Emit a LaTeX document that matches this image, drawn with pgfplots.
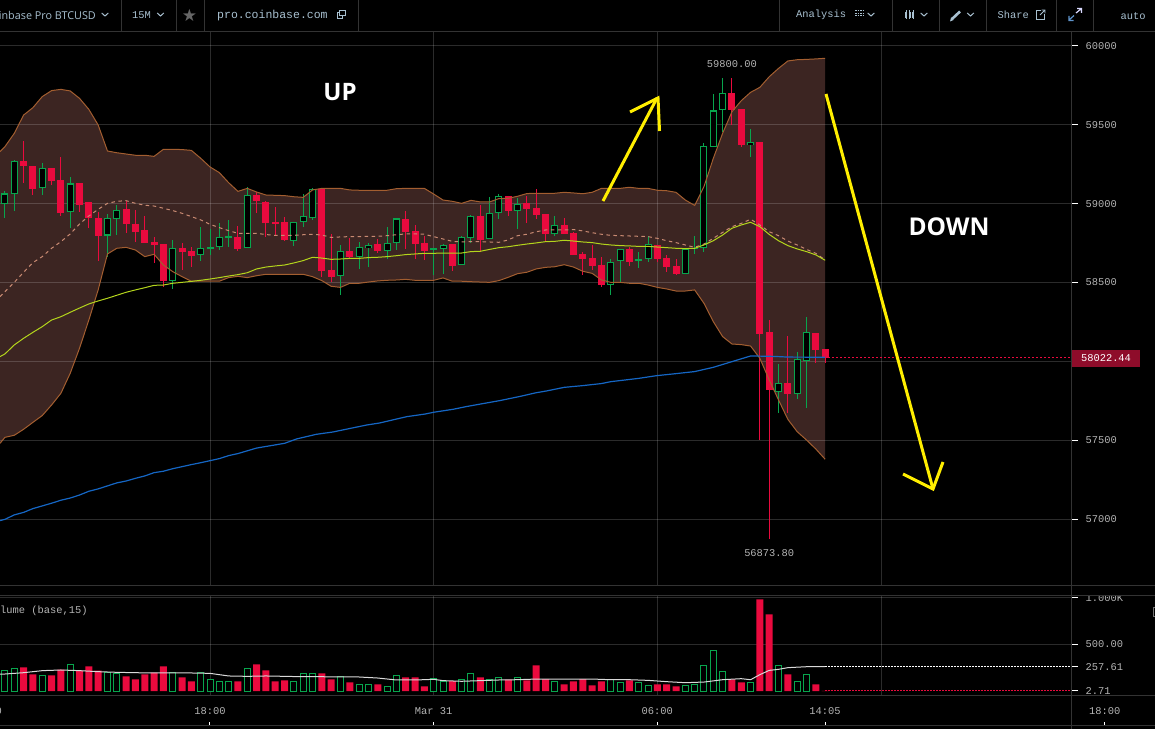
\documentclass[border=0pt]{standalone}
\usepackage{fontspec}
\usepackage{pgfplots}
\usepackage{pgfplotstable}
\pgfplotsset{compat=1.18}
\newfontfamily\mono{Liberation Mono}
\newfontfamily\ui{Open Sans}
\newfontfamily\sym{DejaVu Sans}
\setmainfont{Liberation Mono}
\newcommand{\tk}{\mono\fontsize{10.4}{12}\selectfont}
\definecolor{cred}{HTML}{EA0A3E}
\definecolor{cgreen}{HTML}{08A54D}
\definecolor{bandf}{HTML}{3C2522}
\definecolor{bandl}{HTML}{A35E30}
\definecolor{dash}{HTML}{C98A72}
\definecolor{ylw}{HTML}{B4D51C}
\definecolor{blu}{HTML}{1566C4}
\definecolor{lbl}{HTML}{B4B4B4}
\definecolor{uit}{HTML}{A8C0D0}
\definecolor{sep}{HTML}{333333}
\definecolor{tag}{HTML}{8E0C2A}
\definecolor{arrowy}{HTML}{FFEE00}

% i top bot hi lo
\pgfplotstableread{
i top bot hi lo
-20 59271 59241 59395 59129
-19 59239 59093 59239 59053
-17 59226 59144 59226 59121
-16 59150 58941 59298 58924
-14 59131 58992 59131 58949
-13 59011 58911 59011 58848
-12 58909 58797 58949 58634
-9 58966 58873 59019 58816
-8 58875 58822 58958 58759
-7 58833 58751 58922 58751
-6 58755 58738 58787 58626
-5 58744 58510 58744 58469
-3 58719 58696 58753 58577
-2 58698 58670 58727 58596
3 58787 58713 58856 58698
5 59053 59019 59076 58939
6 59015 58880 59015 58787
7 58882 58877 58977 58795
8 58882 58772 58913 58763
12 59097 58575 59097 58533
13 58579 58535 58806 58505
15 58700 58662 58784 58647
18 58744 58698 58774 58685
21 58903 58822 58951 58715
22 58827 58746 58863 58647
23 58749 58700 58795 58641
26 58744 58605 58744 58575
29 58922 58772 58994 58696
32 59049 58954 59049 58920
34 59004 58966 59047 58875
35 58973 58928 59091 58901
36 58935 58810 58935 58757
38 58865 58810 58907 58810
39 58814 58675 58822 58675
40 58681 58649 58691 58550
41 58655 58605 58740 58581
42 58611 58484 58664 58469
45 58713 58632 58727 58607
48 58736 58651 58736 58632
49 58655 58600 58672 58565
50 58605 58556 58647 58546
56 59702 59594 59800 59497
57 59600 59372 59600 59362
59 59391 58176 59391 57499
60 58186 57818 58260 56873.8
62 57861 57795 58159 57670
65 58178 58074 58178 57987
66 58076 58022.44 58076 57987
}\redtab
\pgfplotstableread{
i top bot hi lo
-22 59065 58996 59078 58907
-21 59269 59065 59277 58956
-18 59224 59097 59256 59057
-15 59129 58945 59171 58848
-11 58913 58799 58932 58664
-10 58964 58907 58989 58803
-4 58717 58512 58768 58457
-1 58717 58672 58850 58634
0 58723 58715 58837 58677
1 58787 58723 58875 58708
2 58793 58787 58894 58727
4 59053 58717 59108 58717
9 58886 58761 58886 58734
10 58920 58886 59059 58854
11 59097 58911 59097 58894
14 58698 58539 58736 58419
16 58723 58664 58755 58584
17 58736 58721 58748 58601
19 58755 58704 58850 58647
20 58907 58753 58907 58704
24 58717 58704 58717 58550
25 58742 58717 58742 58556
27 58786 58609 58795 58609
28 58920 58784 58928 58748
30 58939 58774 59044 58774
31 59047 58939 59059 58901
33 59002 58956 59034 58837
37 58869 58806 58920 58797
43 58634 58488 58649 58423
44 58710 58634 58710 58501
46 58647 58634 58691 58590
47 58742 58647 58797 58632
51 58717 58558 58717 58558
52 58721 58715 58797 58679
53 59364 58717 59387 58696
54 59592 59362 59693 59362
55 59700 59592 59795 59457
58 59389 59374 59471 59298
61 57861 57808 57981 57675
63 58013 57795 58057 57759
64 58184 58000 58279 57702
}\greentab
% i upper lower
\pgfplotstableread{
i u l
-22.53 59330 57480
-22 59362 57518
-21 59446 57531
-20 59562 57569
-19 59609 57613
-18 59679 57656
-17 59717 57723
-16 59725 57797
-15 59715 57924
-14 59668 58083
-13 59598 58262
-12 59499 58453
-11 59334 58681
-10 59323 58717
-9 59315 58723
-8 59307 58706
-7 59307 58664
-6 59300 58679
-5 59345 58611
-4 59345 58569
-3 59343 58537
-2 59338 58508
-1 59288 58508
0 59233 58508
1 59197 58508
2 59133 58531
3 59078 58539
4 59097 58531
5 59074 58543
6 59055 58552
7 59053 58552
8 59051 58552
9 59044 58552
10 59040 58552
11 59087 58537
12 59097 58512
13 59097 58476
14 59097 58469
15 59087 58495
16 59085 58495
17 59085 58503
18 59085 58510
19 59085 58514
20 59095 58516
21 59097 58520
22 59097 58514
23 59097 58514
24 59061 58514
25 59023 58529
26 59015 58508
27 59002 58508
28 59021 58505
29 59011 58503
30 59011 58501
31 59032 58512
32 59034 58533
33 59047 58556
34 59064 58565
35 59066 58586
36 59066 58596
37 59066 58600
38 59072 58613
39 59068 58598
40 59063 58571
41 59072 58558
42 59097 58516
43 59097 58501
44 59097 58501
45 59104 58495
46 59097 58495
47 59097 58484
48 59085 58469
49 59082 58459
50 59072 58446
51 59023 58446
52 58989 58453
53 59108 58368
54 59287 58252
55 59446 58157
56 59583 58110
57 59653 58106
58 59706 58097
59 59738 58019
60 59805 57882
61 59858 57755
62 59905 57632
63 59913 57554
64 59915 57501
65 59918 57444
66 59922 57379
}\bandtab
% i sma20 ma50
\pgfplotstableread{
i d y
-22.53 58410 58030
-22 58442 58047
-21 58501 58104
-20 58565 58146
-19 58626 58184
-18 58664 58220
-17 58717 58262
-16 58759 58283
-15 58808 58311
-14 58871 58338
-13 58922 58364
-12 58964 58383
-11 59002 58400
-10 59015 58419
-9 59019 58438
-8 59002 58453
-7 58990 58467
-6 58985 58482
-5 58971 58484
-4 58956 58495
-3 58939 58501
-2 58918 58507
-1 58897 58514
0 58869 58522
1 58848 58531
2 58829 58541
3 58812 58550
4 58812 58562
5 58812 58586
6 58804 58598
7 58799 58605
8 58799 58611
9 58799 58624
10 58803 58639
11 58806 58660
12 58801 58655
13 58786 58647
14 58789 58649
15 58791 58653
16 58791 58653
17 58793 58658
18 58793 58660
19 58797 58664
20 58803 58670
21 58808 58677
22 58808 58681
23 58806 58685
24 58791 58685
25 58776 58687
26 58761 58687
27 58757 58687
28 58759 58696
29 58759 58698
30 58757 58710
31 58755 58721
32 58770 58727
33 58797 58736
34 58806 58744
35 58822 58751
36 58833 58759
37 58833 58761
38 58833 58768
39 58836 58763
40 58827 58757
41 58816 58753
42 58806 58744
43 58799 58738
44 58797 58734
45 58795 58732
46 58793 58729
47 58791 58729
48 58780 58725
49 58765 58721
50 58753 58717
51 58738 58715
52 58723 58717
53 58744 58738
54 58780 58765
55 58818 58801
56 58854 58844
57 58875 58865
58 58901 58882
59 58865 58854
60 58822 58805
61 58797 58765
62 58763 58734
63 58738 58713
64 58710 58696
65 58685 58675
66 58643 58641
}\matab
\pgfplotstableread{
i b
-22.53 56990
-22 56998
-21 57026
-20 57042
-19 57066
-18 57083
-17 57100
-16 57119
-15 57133
-14 57152
-13 57176
-12 57191
-11 57210
-10 57229
-9 57241
-8 57258
-7 57273
-6 57294
-5 57303
-4 57319
-3 57332
-2 57345
-1 57357
0 57370
1 57383
2 57402
3 57415
5 57450
8 57480
9.3 57508
11.4 57537
13.2 57552
15.4 57579
16.8 57596
18.2 57609
21.1 57649
23.1 57666
24 57677
26.1 57696
27.5 57713
29.1 57730
31.1 57751
33.3 57778
35 57801
36.1 57812
38 57835
40 57846
42 57859
43 57871
46 57892
47.9 57909
50 57922
52 57935
54 57962
56 57998
58 58034
60 58032
61 58030
62 58027
66 58026
}\bluetab
\pgfplotstableread{
i v
-20 253
-19 178
-17 168
-16 228
-14 218
-13 264
-12 218
-9 157
-8 125
-7 178
-6 196
-5 264
-3 146
-2 104
3 104
5 286
6 221
7 104
8 114
12 189
13 125
15 93
18 71
21 146
22 146
23 50
26 107
29 146
32 121
34 114
35 275
36 128
38 71
39 104
40 128
41 61
42 104
45 114
48 71
49 71
50 50
56 125
57 93
59 981
60 821
62 178
65 71
66 2.71
}\volred
\pgfplotstableread{
i v
-22 218
-21 239
-18 164
-15 282
-11 196
-10 186
-4 193
-1 196
0 125
1 100
2 100
4 239
9 100
10 186
11 186
14 150
16 68
17 68
19 46
20 164
24 132
25 100
27 121
28 186
30 121
31 143
33 143
37 100
43 125
44 89
46 89
47 57
51 57
52 68
53 271
54 432
55 207
58 89
61 271
63 100
64 175
}\volgreen
\pgfplotstableread{
i m
-22.53 182
-22 182
-20 196
-18 218
-16 225
-14 218
-12 207
-10 200
-8 196
-6 193
-4 193
-2 193
0 189
2 161
4 157
6 161
8 157
10 153
12 153
14 150
16 150
18 139
20 118
22 118
24 125
25 111
27 104
29 111
31 118
33 121
35 128
39 128
41 128
43 121
45 121
47 114
49 100
51 89
53 96
55 121
57 132
58 121
59 175
60 221
61 232
62 250
64 260
66 260
}\volma

\begin{document}
\begin{tikzpicture}
\fill[black] (0,0) rectangle (1155pt,729pt);

% --- Bollinger band, beneath the grid
\begin{axis}[at={(0pt,144pt)},anchor=south west,scale only axis,width=1071.5pt,height=553pt,
  xmin=-22.532,xmax=92.44,ymin=56581.4,ymax=60088.8,hide axis,stack plots=y]
\addplot[draw=none,forget plot] table[x=i,y=l]{\bandtab};
\addplot[fill=bandf,draw=none,forget plot] table[x=i,y expr=\thisrow{u}-\thisrow{l}]{\bandtab} \closedcycle;
\end{axis}

% --- price panel
\begin{axis}[at={(0pt,144pt)},anchor=south west,scale only axis,width=1071.5pt,height=553pt,
  xmin=-22.532,xmax=92.44,ymin=56581.4,ymax=60088.8,
  axis line style={draw=none},
  xtick={0,24,48,72},xticklabels={},xtick style={draw=none},
  ytick={57000,57500,58000,58500,59000,59500,60000},
  yticklabels={57000,57500,,58500,59000,59500,60000},
  scaled y ticks=false,
  ytick pos=right,yticklabel pos=right,tick align=outside,major tick length=6.5pt,
  ytick style={draw=white,line width=1pt},
  yticklabel style={font=\tk,text=lbl,xshift=4pt},
  grid=major,grid style={white,opacity=0.17,line width=1pt}]
% wicks
\addplot[forget plot,draw=none,mark=none,error bars/.cd,y dir=both,y explicit,error mark=none,
  error bar style={line width=1pt,draw=cred}]
  table[x=i,y=top,y error plus expr=\thisrow{hi}-\thisrow{top},y error minus expr=\thisrow{top}-\thisrow{lo}]{\redtab};
\addplot[forget plot,draw=none,mark=none,error bars/.cd,y dir=both,y explicit,error mark=none,
  error bar style={line width=1pt,draw=cgreen}]
  table[x=i,y=top,y error plus expr=\thisrow{hi}-\thisrow{top},y error minus expr=\thisrow{top}-\thisrow{lo}]{\greentab};
% bodies
\addplot[forget plot,draw=none,mark=none,error bars/.cd,y dir=both,y explicit,error mark=none,
  error bar style={line width=7pt,draw=cred}]
  table[x=i,y expr=(\thisrow{top}+\thisrow{bot})/2,y error expr=(\thisrow{top}-\thisrow{bot})/2]{\redtab};
\addplot[forget plot,draw=none,mark=none,error bars/.cd,y dir=both,y explicit,error mark=none,
  error bar style={line width=7pt,draw=cgreen}]
  table[x=i,y expr=(\thisrow{top}+\thisrow{bot})/2,y error expr=(\thisrow{top}-\thisrow{bot})/2]{\greentab};
\addplot[forget plot,draw=none,mark=none,error bars/.cd,y dir=both,y explicit,error mark=none,
  error bar style={line width=5pt,draw=black}]
  table[x=i,y expr=(\thisrow{top}+\thisrow{bot})/2,y error expr={max(0,(\thisrow{top}-\thisrow{bot})/2-6.5)}]{\greentab};
% band edges and moving averages
\addplot[draw=bandl,line width=1pt] table[x=i,y=u]{\bandtab};
\addplot[draw=bandl,line width=1pt] table[x=i,y=l]{\bandtab};
\addplot[draw=dash,line width=1pt,dash pattern=on 3.5pt off 3.5pt] table[x=i,y=d]{\matab};
\addplot[draw=ylw,line width=1pt] table[x=i,y=y]{\matab};
\addplot[draw=blu,line width=1.2pt] table[x=i,y=b]{\bluetab};
\addplot[draw=cred,line width=1pt,dash pattern=on 2pt off 2pt] coordinates {(66.3,58022.44) (92.44,58022.44)};
\node[font=\tk,text=lbl] at (axis cs:56,59885) {59800.00};
\node[font=\tk,text=lbl] at (axis cs:60,56786) {56873.80};
\end{axis}

% --- volume panel
\begin{axis}[at={(0pt,34pt)},anchor=south west,scale only axis,width=1071.5pt,height=100pt,
  xmin=-22.532,xmax=92.44,ymin=-42.8,ymax=1027.8,
  axis line style={draw=none},
  xtick={0,24,48,72},xticklabels={},xtick style={draw=none},
  ytick={500,1000},yticklabels={500.00,1.000K},
  extra y ticks={2.71,257.61},extra y tick labels={2.71,257.61},
  extra y tick style={grid=none},
  ytick pos=right,yticklabel pos=right,tick align=outside,major tick length=6.5pt,
  ytick style={draw=white,line width=1pt},
  yticklabel style={font=\tk,text=lbl,xshift=4pt},
  grid=major,grid style={white,opacity=0.17,line width=1pt}]
\addplot[ybar,bar shift=0pt,bar width=7pt,fill=cred,draw=none,forget plot] table[x=i,y=v]{\volred};
\addplot[ybar,bar shift=0pt,bar width=6pt,fill=black,draw=cgreen,line width=1pt,forget plot] table[x=i,y=v]{\volgreen};
\addplot[draw=white!85!black,line width=1pt] table[x=i,y=m]{\volma};
\addplot[draw=white,line width=1pt,dash pattern=on 1.5pt off 1.5pt] coordinates {(66,257.61) (92.44,257.61)};
\addplot[draw=cred,line width=1pt,dash pattern=on 1.5pt off 1.5pt] coordinates {(66,2.71) (92.44,2.71)};
\end{axis}

% --- time scale
\begin{axis}[at={(-69.6pt,4pt)},anchor=south west,scale only axis,width=1224.6pt,height=30pt,
  xmin=-30,xmax=101.4,ymin=0,ymax=1,
  axis line style={draw=none},ytick=\empty,
  xtick={-24,0,24,48,66,96},xticklabels={12:00,18:00,Mar 31,06:00,14:05,18:00},
  xtick pos=bottom,tick align=inside,major tick length=3pt,
  xtick style={draw=white,line width=1pt},
  xticklabel style={font=\tk,text=lbl,anchor=center,yshift=14pt}]
\end{axis}

% --- frame, toolbar and annotations, in pixels of the reference
\begin{scope}[shift={(0pt,729pt)},x=1pt,y=-1pt]
\fill[black] (1073,586) rectangle (1155,594.5);
\fill[black] (1073,695.5) rectangle (1155,700);
\foreach \yy in {31.5,585,595,695,725} \draw[sep,line width=1pt] (0,\yy) -- (1155,\yy);
\draw[sep,line width=1pt] (1071.5,31.5) -- (1071.5,729);
\foreach \xx in {121,176,204,358,779,892,939,986,1056,1093} \draw[sep,line width=1pt] (\xx,0) -- (\xx,31.5);

\node[fill=tag,text=white,font=\tk,inner sep=0pt,minimum width=68pt,minimum height=17pt] at (1106,358.5) {58022.44};
\node[font=\tk,text=lbl,anchor=west,inner sep=0pt] at (-12.5,611) {Volume (base,15)};

\node[font=\ui\fontsize{10.8}{12}\selectfont,text=uit,anchor=east,inner sep=0pt] at (96,15) {Coinbase Pro BTCUSD};
\node[font=\tk,text=uit,anchor=west,inner sep=0pt] at (132,15) {15M};
\node[font=\sym\fontsize{17}{18}\selectfont,text=white!40!black,inner sep=0pt] at (189.5,15) {★};
\node[font=\mono\fontsize{11.5}{12}\selectfont,text=uit,anchor=west,inner sep=0pt] at (217,15.5) {pro.coinbase.com};
\node[font=\tk,text=uit,anchor=west,inner sep=0pt] at (796,15) {Analysis};
\node[font=\tk,text=uit,anchor=west,inner sep=0pt] at (997.5,15) {Share};
\node[font=\tk,text=uit,anchor=west,inner sep=0pt] at (1120.5,16) {auto};
% chevrons
\foreach \cx in {105,160.5,871,924,970.5}
  \draw[uit,line width=1pt] (\cx-3.3,13) -- (\cx,16) -- (\cx+3.3,13);
% popup and share icons
\draw[uit,line width=.8pt] (337,12.5) rectangle (342,18);
\draw[uit,line width=.8pt,fill=black] (339.5,10) rectangle (345,15.5);
\draw[uit,line width=.8pt] (1044.5,14) -- (1044.5,19) -- (1036.5,19) -- (1036.5,10.5) -- (1041,10.5);
\draw[uit,line width=.8pt] (1040,15) -- (1045,10) (1041.5,10) -- (1045,10) -- (1045,13.5);
% flag
\foreach \fy in {11,13.5,16} \draw[uit,line width=1pt,dash pattern=on 1.5pt off 1pt] (855,\fy) -- (865,\fy);
% candle icon
\foreach \fx in {906,909.5,913} \draw[uit,line width=2pt] (\fx,12) -- (\fx,18);
\foreach \fx in {906,909.5,913} \draw[uit,line width=.6pt] (\fx,10.5) -- (\fx,19.5);
% pencil
\draw[uit,line width=2.6pt] (952,19) -- (960,11.5);
\fill[uit] (950,21.5) -- (951,17.5) -- (953.5,20) -- cycle;
% expand
\draw[blu!50!uit,line width=1.2pt] (1069,20) -- (1074,15.5) (1069,16) -- (1069,20.5) -- (1073.5,20.5);
\draw[white!85!blue,line width=1.2pt] (1076,13) -- (1081.5,8.5) (1077,8.5) -- (1081.5,8.5) -- (1081.5,13);
% small box at the right edge
\draw[white!45!black,line width=.8pt] (1153,607) rectangle (1156,616);

% arrows
\draw[arrowy,line width=3pt,line cap=butt,line join=miter] (603,201) -- (657,98);
\draw[arrowy,line width=3pt,line join=miter] (630,112) -- (658,98) -- (659.5,131);
\draw[arrowy,line width=3pt] (826,94) -- (933,489);
\draw[arrowy,line width=3pt,line join=miter] (903,474) -- (933,489) -- (943,462);

\node[font=\ui\bfseries\fontsize{24}{26}\selectfont,text=white] at (340,92) {UP};
\node[font=\ui\bfseries\fontsize{24.5}{26}\selectfont,text=white] at (949,227) {DOWN};
\end{scope}
\pgfresetboundingbox
\path[use as bounding box] (0,0) rectangle (1155pt,729pt);
\end{tikzpicture}
\end{document}
